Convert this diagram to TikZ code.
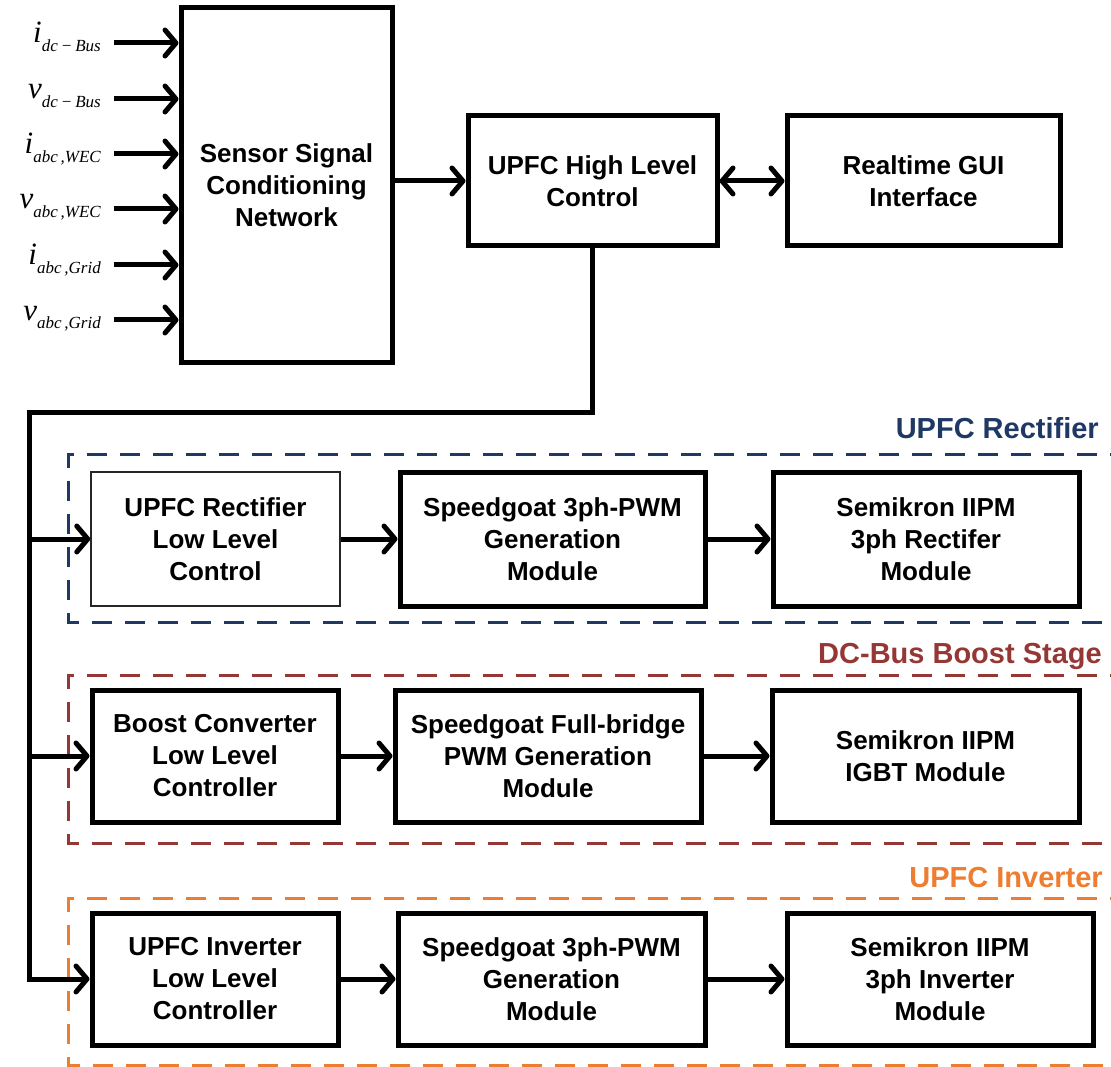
\documentclass[tikz,border=0pt]{standalone}
\usepackage{fontspec}
\setmainfont{Liberation Sans}
\newfontfamily\sigfont{Liberation Serif}
\usetikzlibrary{arrows.meta}
\definecolor{recblue}{HTML}{1F3864}
\definecolor{boostred}{HTML}{953735}
\definecolor{invorange}{HTML}{ED7D31}
\newcommand{\sig}[2]{{\sigfont\itshape\fontsize{31}{31}\selectfont #1\raisebox{-9pt}{\fontsize{17}{17}\selectfont #2}}}
\newcommand{\mns}{\hspace{3pt}−\hspace{3pt}}

\begin{document}
\begin{tikzpicture}[x=1pt, y=-1pt,
    blk/.style={draw, line width=5pt, align=center, inner sep=0pt,
        font=\fontsize{26}{32}\selectfont\bfseries},
    thinblk/.style={blk, line width=1.5pt, draw=black!85},
    arr/.style={line width=5pt, -{Straight Barb[length=11pt,width=26pt,round]}},
    frm/.style={line width=3pt, dash pattern=on 20pt off 13pt},
    frmlbl/.style={anchor=base east, inner sep=0pt, font=\fontsize{29}{29}\selectfont\bfseries}]
    \useasboundingbox (0,0) rectangle (1111,1067);
    \clip (0,0) rectangle (1111,1067);

    \draw[frm, recblue] (1130,454) -| (68,622) -- (1130,622);
    \draw[frm, boostred] (1130,675) -| (68,843) -- (1130,843);
    \draw[frm, invorange] (1130,898) -| (68,1065) -- (1130,1065);
    \node[frmlbl, recblue] (rlbl) at (1099,438) {UPFC Rectifier};
    \node[frmlbl, boostred] (blbl) at (1102,663) {DC-Bus Boost Stage};
    \node[frmlbl, invorange] (ilbl) at (1103,887) {UPFC Inverter};

    \node[blk, minimum width=211pt, minimum height=354pt] (sensor) at (286.5,185) {Sensor Signal\\Conditioning\\Network};
    \node[blk, minimum width=249pt, minimum height=130pt] (hl) at (592.5,181) {UPFC High Level\\Control};
    \node[blk, minimum width=273pt, minimum height=130pt] (gui) at (923.5,181) {Realtime GUI\\Interface};

    \node[thinblk, minimum width=249pt, minimum height=134pt] (rlow) at (215.5,539) {UPFC Rectifier\\Low Level\\Control};
    \node[blk, minimum width=305pt, minimum height=134pt] (rsg) at (552.5,539) {Speedgoat 3ph-PWM\\Generation\\Module};
    \node[blk, minimum width=306pt, minimum height=134pt] (rsemi) at (926,539) {Semikron IIPM\\3ph Rectifer\\Module};

    \node[blk, minimum width=246pt, minimum height=132pt] (blow) at (215,756) {Boost Converter\\Low Level\\Controller};
    \node[blk, minimum width=306pt, minimum height=132pt] (bsg) at (548,756) {Speedgoat Full-bridge\\PWM Generation\\Module};
    \node[blk, minimum width=307pt, minimum height=132pt] (bsemi) at (925.5,756) {Semikron IIPM\\IGBT Module};

    \node[blk, minimum width=246pt, minimum height=132pt] (ilow) at (215,979) {UPFC Inverter\\Low Level\\Controller};
    \node[blk, minimum width=307pt, minimum height=132pt] (isg) at (551.5,979) {Speedgoat 3ph-PWM\\Generation\\Module};
    \node[blk, minimum width=306pt, minimum height=132pt] (isemi) at (940,979) {Semikron IIPM\\3ph Inverter\\Module};

    \foreach \yy/\nm/\lbl in {43/in1/{\sig{i}{dc\mns Bus}}, 99/in2/{\sig{v}{dc\mns Bus}},
        154/in3/{\sig{i}{abc\,,WEC}}, 209/in4/{\sig{v}{abc\,,WEC}},
        265/in5/{\sig{i}{abc\,,Grid}}, 320/in6/{\sig{v}{abc\,,Grid}}} {
        \coordinate (\nm) at (114,\yy);
        \node[anchor=base east, inner sep=0pt] (\nm lbl) at (101,\yy) {\lbl};
        \draw[arr] (\nm) -- (\nm -| sensor.west);
    }

    \draw[arr] (sensor.east |- hl.west) -- (hl.west);
    \draw[line width=5pt, {Straight Barb[length=11pt,width=26pt,round]}-{Straight Barb[length=11pt,width=26pt,round]}] (hl.east) -- (gui.west);

    \coordinate (trunk) at (29,412);
    \draw[arr] (hl.south) |- (trunk) |- (ilow.west);
    \draw[arr] (trunk |- rlow.west) -- (rlow.west);
    \draw[arr] (trunk |- blow.west) -- (blow.west);

    \draw[arr] (rlow.east) -- (rsg.west);
    \draw[arr] (rsg.east) -- (rsemi.west);
    \draw[arr] (blow.east) -- (bsg.west);
    \draw[arr] (bsg.east) -- (bsemi.west);
    \draw[arr] (ilow.east) -- (isg.west);
    \draw[arr] (isg.east) -- (isemi.west);
\end{tikzpicture}
\end{document}
